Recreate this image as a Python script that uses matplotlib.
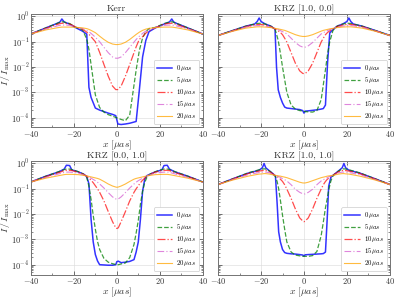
import numpy as np
import matplotlib
matplotlib.use('Agg')
import matplotlib.pyplot as plt
from matplotlib.ticker import MultipleLocator, LogLocator, NullFormatter

# All intensities are log10(I / I_max).

# ---- Kerr ----
kerr_x = [-40, -33, -28, -26.5, -25.6, -24.5, -22, -19, -16, -14, -13, -12, -10, -8, -6, -4, -2, -0.5,
          0.5, 2, 4, 6, 9, 10.5, 12, 13.5, 15, 18, 22, 24.5, 25.6, 26.5, 28, 33, 40]
kerr_0 = [-0.69, -0.45, -0.28, -0.22, -0.10, -0.22, -0.30, -0.45, -0.58, -0.70, -2.80, -3.20, -3.62, -3.70, -3.76, -3.82, -3.87, -3.92,
          -4.25, -4.27, -4.25, -4.22, -4.15, -2.90, -1.60, -0.95, -0.60, -0.45, -0.30, -0.22, -0.10, -0.22, -0.28, -0.45, -0.69]
kerr_5 = [-0.69, -0.45, -0.28, -0.23, -0.21, -0.22, -0.28, -0.43, -0.52, -0.90, -1.30, -1.90, -3.10, -3.60, -3.78, -3.88, -3.94, -3.99,
          -4.02, -4.07, -4.12, -3.90, -2.12, -1.34, -0.85, -0.60, -0.48, -0.43, -0.28, -0.22, -0.21, -0.23, -0.28, -0.45, -0.69]
kerr_10 = [-0.69, -0.47, -0.32, -0.28, -0.27, -0.27, -0.30, -0.42, -0.50, -0.62, -0.70, -0.80, -1.00, -1.42, -1.90, -2.36, -2.75, -2.89,
           -2.89, -2.75, -2.36, -1.90, -1.20, -0.90, -0.80, -0.66, -0.56, -0.44, -0.30, -0.27, -0.27, -0.28, -0.32, -0.47, -0.69]
kerr_15 = [-0.69, -0.49, -0.38, -0.35, -0.34, -0.34, -0.35, -0.42, -0.48, -0.56, -0.60, -0.67, -0.82, -1.00, -1.22, -1.43, -1.60, -1.65,
           -1.65, -1.60, -1.43, -1.22, -0.91, -0.78, -0.67, -0.58, -0.52, -0.44, -0.35, -0.34, -0.34, -0.35, -0.38, -0.49, -0.69]
kerr_20 = [-0.69, -0.53, -0.45, -0.43, -0.42, -0.42, -0.42, -0.43, -0.45, -0.48, -0.51, -0.55, -0.64, -0.78, -0.91, -1.02, -1.09, -1.11,
           -1.11, -1.09, -1.02, -0.91, -0.71, -0.62, -0.55, -0.50, -0.47, -0.44, -0.42, -0.42, -0.42, -0.43, -0.45, -0.53, -0.69]

# ---- KRZ [1.0, 0.0] ----
krz10_x = [-40, -33, -27, -23, -21.8, -20.9, -20, -18, -15.5, -13.5, -12.8, -12, -11, -10, -9, -8, -6, -4, -2, -0.6,
           0, 0.6, 2, 4, 6, 8, 9, 10, 11, 12, 13.5, 15.5, 18, 20, 20.9, 21.8, 23, 27, 33, 40]
krz10_0 = [-0.75, -0.55, -0.38, -0.30, -0.20, -0.06, -0.20, -0.30, -0.38, -0.50, -2.00, -2.90, -3.20, -3.42, -3.58, -3.62, -3.64, -3.66, -3.68, -3.72,
           -3.82, -3.74, -3.73, -3.71, -3.69, -3.66, -3.64, -3.50, -1.80, -0.65, -0.52, -0.38, -0.30, -0.20, -0.06, -0.20, -0.30, -0.38, -0.55, -0.75]
krz10_5 = [-0.75, -0.55, -0.38, -0.30, -0.28, -0.27, -0.27, -0.30, -0.38, -0.50, -0.70, -0.95, -1.45, -2.00, -2.50, -3.00, -3.50, -3.66, -3.72, -3.74,
           -3.75, -3.76, -3.77, -3.78, -3.72, -3.29, -2.70, -2.10, -1.47, -1.00, -0.55, -0.38, -0.30, -0.27, -0.27, -0.28, -0.30, -0.38, -0.55, -0.75]
krz10_10 = [-0.75, -0.56, -0.40, -0.33, -0.32, -0.32, -0.32, -0.34, -0.40, -0.49, -0.52, -0.57, -0.63, -0.72, -0.86, -1.01, -1.43, -1.85, -2.15, -2.25,
            -2.26, -2.25, -2.15, -1.85, -1.43, -1.01, -0.86, -0.72, -0.63, -0.57, -0.49, -0.40, -0.34, -0.32, -0.32, -0.32, -0.33, -0.40, -0.56, -0.75]
krz10_15 = [-0.75, -0.57, -0.42, -0.37, -0.36, -0.36, -0.36, -0.38, -0.42, -0.48, -0.50, -0.52, -0.56, -0.60, -0.64, -0.69, -0.86, -1.03, -1.16, -1.21,
            -1.22, -1.21, -1.16, -1.03, -0.86, -0.69, -0.64, -0.60, -0.56, -0.52, -0.48, -0.42, -0.38, -0.36, -0.36, -0.36, -0.37, -0.42, -0.57, -0.75]
krz10_20 = [-0.75, -0.58, -0.46, -0.42, -0.41, -0.41, -0.41, -0.42, -0.44, -0.47, -0.48, -0.49, -0.51, -0.53, -0.55, -0.58, -0.65, -0.72, -0.77, -0.79,
            -0.79, -0.79, -0.77, -0.72, -0.65, -0.58, -0.55, -0.53, -0.51, -0.49, -0.47, -0.44, -0.42, -0.41, -0.41, -0.41, -0.42, -0.46, -0.58, -0.75]

# ---- KRZ [0.0, 1.0] ----
krz01_x = [-40, -33, -27, -24.5, -23.5, -22, -21, -18, -15.5, -14, -13, -12, -11, -10, -9, -8, -6, -4, -2, -0.5,
           0, 0.7, 2, 4, 6, 8, 9, 10, 11, 12, 13, 14, 15.5, 18, 21, 22, 23.5, 24.5, 27, 33, 40]
krz01_0 = [-0.73, -0.50, -0.33, -0.22, -0.07, -0.08, -0.25, -0.33, -0.42, -0.52, -0.80, -2.20, -3.10, -3.60, -3.85, -4.00, -4.01, -4.02, -4.02, -4.00,
           -3.88, -3.86, -3.92, -3.90, -3.87, -3.80, -3.50, -3.10, -2.20, -1.10, -0.62, -0.48, -0.42, -0.33, -0.25, -0.08, -0.07, -0.22, -0.33, -0.50, -0.73]
krz01_5 = [-0.73, -0.50, -0.32, -0.24, -0.22, -0.22, -0.24, -0.32, -0.42, -0.55, -0.90, -1.42, -2.05, -2.60, -3.08, -3.40, -3.75, -3.90, -3.96, -3.99,
           -4.00, -4.00, -3.97, -3.93, -3.72, -3.20, -2.75, -2.25, -1.60, -1.10, -0.75, -0.55, -0.42, -0.32, -0.24, -0.22, -0.22, -0.24, -0.32, -0.50, -0.73]
krz01_10 = [-0.73, -0.52, -0.36, -0.28, -0.27, -0.27, -0.28, -0.34, -0.43, -0.50, -0.58, -0.66, -0.76, -0.88, -1.00, -1.14, -1.48, -1.90, -2.30, -2.54,
            -2.57, -2.54, -2.30, -1.90, -1.48, -1.14, -1.00, -0.88, -0.76, -0.66, -0.58, -0.50, -0.43, -0.34, -0.28, -0.27, -0.27, -0.28, -0.36, -0.52, -0.73]
krz01_15 = [-0.73, -0.55, -0.41, -0.35, -0.34, -0.34, -0.35, -0.38, -0.45, -0.49, -0.54, -0.58, -0.63, -0.68, -0.74, -0.81, -0.97, -1.15, -1.32, -1.40,
            -1.41, -1.40, -1.32, -1.15, -0.97, -0.81, -0.74, -0.68, -0.63, -0.58, -0.54, -0.49, -0.45, -0.38, -0.35, -0.34, -0.34, -0.35, -0.41, -0.55, -0.73]
krz01_20 = [-0.73, -0.58, -0.48, -0.44, -0.43, -0.43, -0.43, -0.44, -0.47, -0.49, -0.51, -0.53, -0.55, -0.57, -0.59, -0.62, -0.71, -0.81, -0.89, -0.93,
            -0.94, -0.93, -0.89, -0.81, -0.71, -0.62, -0.59, -0.57, -0.55, -0.53, -0.51, -0.49, -0.47, -0.44, -0.43, -0.43, -0.43, -0.44, -0.48, -0.58, -0.73]

# ---- KRZ [1.0, 1.0] ----
krz11_x = [-40, -33, -26, -21, -19.4, -18.6, -17.8, -16, -14.5, -13.3, -12.5, -11.8, -11, -10, -9, -8, -6, -4, -2, -0.5,
           0, 0.5, 2, 4, 6, 8, 9, 10, 10.8, 11.5, 12.5, 13.3, 14.5, 16, 17.8, 18.6, 19.4, 21, 26, 33, 40]
krz11_0 = [-0.83, -0.60, -0.38, -0.27, -0.17, 0.00, -0.17, -0.30, -0.40, -0.50, -1.60, -2.70, -3.10, -3.40, -3.52, -3.55, -3.57, -3.58, -3.60, -3.62,
           -3.66, -3.61, -3.60, -3.59, -3.58, -3.57, -3.56, -3.50, -2.20, -0.90, -0.55, -0.48, -0.40, -0.30, -0.17, 0.00, -0.17, -0.27, -0.38, -0.60, -0.83]
krz11_5 = [-0.83, -0.60, -0.37, -0.25, -0.22, -0.21, -0.22, -0.30, -0.40, -0.52, -0.72, -1.00, -1.45, -2.05, -2.60, -3.10, -3.50, -3.62, -3.65, -3.67,
           -3.67, -3.67, -3.67, -3.64, -3.48, -2.85, -2.32, -1.75, -1.40, -1.05, -0.70, -0.52, -0.40, -0.30, -0.22, -0.21, -0.22, -0.25, -0.37, -0.60, -0.83]
krz11_10 = [-0.83, -0.61, -0.40, -0.30, -0.28, -0.27, -0.28, -0.33, -0.41, -0.48, -0.52, -0.56, -0.62, -0.71, -0.84, -1.01, -1.38, -1.80, -2.15, -2.28,
            -2.30, -2.28, -2.15, -1.80, -1.38, -1.01, -0.84, -0.71, -0.63, -0.58, -0.52, -0.48, -0.41, -0.33, -0.28, -0.27, -0.28, -0.30, -0.40, -0.61, -0.83]
krz11_15 = [-0.83, -0.63, -0.44, -0.36, -0.34, -0.34, -0.34, -0.37, -0.43, -0.47, -0.50, -0.52, -0.55, -0.60, -0.64, -0.69, -0.84, -1.02, -1.14, -1.20,
            -1.21, -1.20, -1.14, -1.02, -0.84, -0.69, -0.64, -0.60, -0.56, -0.53, -0.50, -0.47, -0.43, -0.37, -0.34, -0.34, -0.34, -0.36, -0.44, -0.63, -0.83]
krz11_20 = [-0.83, -0.65, -0.50, -0.42, -0.41, -0.40, -0.40, -0.42, -0.45, -0.47, -0.48, -0.49, -0.50, -0.52, -0.54, -0.56, -0.62, -0.68, -0.74, -0.77,
            -0.77, -0.77, -0.74, -0.68, -0.62, -0.56, -0.54, -0.52, -0.50, -0.49, -0.48, -0.47, -0.45, -0.42, -0.40, -0.40, -0.41, -0.42, -0.50, -0.65, -0.83]

titles = ['Kerr', 'KRZ [1.0, 0.0]', 'KRZ [0.0, 1.0]', 'KRZ [1.0, 1.0]']
blur_labels = [r'$0\,\mu as$', r'$5\,\mu as$', r'$10\,\mu as$', r'$15\,\mu as$', r'$20\,\mu as$']

panels = [
    (kerr_x, [kerr_0, kerr_5, kerr_10, kerr_15, kerr_20]),
    (krz10_x, [krz10_0, krz10_5, krz10_10, krz10_15, krz10_20]),
    (krz01_x, [krz01_0, krz01_5, krz01_10, krz01_15, krz01_20]),
    (krz11_x, [krz11_0, krz11_5, krz11_10, krz11_15, krz11_20]),
]

styles = [
    dict(color='blue', ls='-', lw=1.1, alpha=0.8),
    dict(color='green', ls='--', lw=0.9, alpha=0.75),
    dict(color='red', ls='-.', lw=0.9, alpha=0.7),
    dict(color='orchid', ls=(0, (6, 2, 1, 2)), lw=0.8, alpha=0.85),
    dict(color='orange', ls='-', lw=0.8, alpha=0.75),
]

plt.rcParams['font.family'] = 'serif'
plt.rcParams['font.serif'] = ['cmr10']
plt.rcParams['mathtext.fontset'] = 'cm'
plt.rcParams['axes.formatter.use_mathtext'] = True
plt.rcParams['axes.unicode_minus'] = True

fig, axes = plt.subplots(2, 2, figsize=(3.97, 3.0), dpi=100, sharey=True)
fig.subplots_adjust(left=0.078, right=0.982, top=0.955, bottom=0.085, wspace=0.09, hspace=0.29)

for ax, title, (x, curves) in zip(axes.flat, titles, panels):
    for logI, st, lab in zip(curves, styles, blur_labels):
        ax.plot(x, 10 ** np.array(logI), label=lab, **st)
    ax.set_yscale('log')
    ax.set_xlim(-40, 40)
    ax.set_ylim(4.1e-5, 1.31)
    ax.set_title(title, fontsize=7, pad=1.5, color='0.2')
    ax.set_xlabel(r'$x\ [\mu as]$', fontsize=7, labelpad=-0.3, color='0.2')
    ax.xaxis.set_major_locator(MultipleLocator(20))
    ax.xaxis.set_minor_locator(MultipleLocator(10))
    ax.yaxis.set_major_locator(LogLocator(base=10, numticks=10))
    ax.yaxis.set_minor_locator(LogLocator(base=10, subs=np.arange(2, 10), numticks=10))
    ax.yaxis.set_minor_formatter(NullFormatter())
    ax.tick_params(which='both', direction='in', top=True, right=True, labelsize=6,
                   colors='0.35', labelcolor='0.2', pad=1.2)
    ax.tick_params(which='major', length=3, width=0.6)
    ax.tick_params(which='minor', length=1.5, width=0.5)
    ax.grid(True, which='major', color='0.85', lw=0.5, alpha=0.8)
    for sp in ax.spines.values():
        sp.set_color('0.45')
        sp.set_linewidth(0.7)
    leg = ax.legend(loc='lower right', fontsize=4.8, handlelength=2.3, labelspacing=0.3,
                    borderpad=0.45, handletextpad=0.6, fancybox=True, framealpha=1, edgecolor='0.8')
    leg.get_frame().set_linewidth(0.5)

for ax in axes[:, 0]:
    ax.set_ylabel(r'$I\,/\,I_{\rm max}$', fontsize=7, labelpad=-0.5, color='0.2')

fig.savefig('out.png', dpi=100)
